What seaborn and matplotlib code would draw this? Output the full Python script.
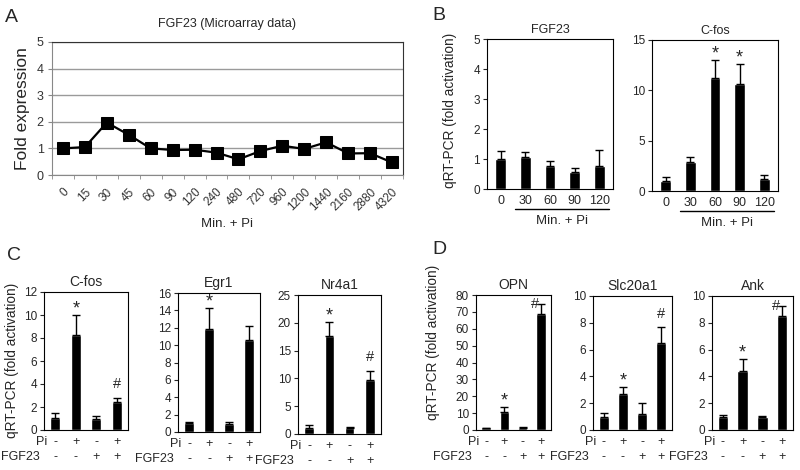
import numpy as np
import seaborn as sns
import matplotlib.pyplot as plt

sns.set_style('white')
plt.rcParams['font.family'] = ['Liberation Sans', 'DejaVu Sans']
plt.rcParams['font.size'] = 8.5

# Panel A: microarray time course
a_times = ['0', '15', '30', '45', '60', '90', '120', '240', '480', '720',
           '960', '1200', '1440', '2160', '2880', '4320']
a_fold = [1.0, 1.05, 1.97, 1.51, 1.0, 0.94, 0.95, 0.84, 0.59, 0.9,
          1.1, 0.98, 1.23, 0.81, 0.82, 0.47]

# Panel B: qRT-PCR time course
b_times = ['0', '30', '60', '90', '120']
b_fgf23 = [1.0, 1.07, 0.78, 0.57, 0.77]
b_fgf23_err = [0.27, 0.18, 0.17, 0.14, 0.53]
b_fgf23_marks = ['', '', '', '', '']
b_cfos = [1.0, 2.9, 11.2, 10.6, 1.15]
b_cfos_err = [0.38, 0.5, 1.8, 2.05, 0.45]
b_cfos_marks = ['', '', '*', '*', '']

# Panels C and D: treatment combinations
pi_signs = ['-', '+', '-', '+']
fgf_signs = ['-', '-', '+', '+']

c_cfos = [1.02, 8.28, 1.0, 2.4]
c_cfos_err = [0.48, 1.72, 0.2, 0.4]
c_cfos_marks = ['', '*', '', '#']
c_egr1 = [1.04, 11.9, 0.97, 10.6]
c_egr1_err = [0.06, 2.4, 0.19, 1.55]
c_egr1_marks = ['', '*', '', '']
c_nr4a1 = [1.02, 17.6, 1.0, 9.7]
c_nr4a1_err = [0.6, 2.6, 0.3, 1.7]
c_nr4a1_marks = ['', '*', '', '#']

d_opn = [1.0, 10.9, 1.1, 68.8]
d_opn_err = [0.3, 2.9, 0.4, 5.9]
d_opn_marks = ['', '*', '', '#']
d_slc20a1 = [1.0, 2.69, 1.17, 6.47]
d_slc20a1_err = [0.24, 0.54, 0.82, 1.19]
d_slc20a1_marks = ['', '*', '', '#']
d_ank = [1.0, 4.4, 1.0, 8.53]
d_ank_err = [0.12, 0.87, 0.07, 0.72]
d_ank_marks = ['', '*', '', '#']

W, H = 800, 470
fig = plt.figure(figsize=(W / 100, H / 100), dpi=100)


def px_axes(l, t, r, b):
    return fig.add_axes([l / W, 1 - b / H, (r - l) / W, (b - t) / H])


def bar_panel(ax, labels, means, errs, marks, ymax, step, width, title, tsize):
    n = len(means)
    sns.barplot(x=labels, y=means, color='black', width=width, saturation=1, ax=ax)
    ax.errorbar(np.arange(n), means, yerr=[np.zeros(n), errs], fmt='none',
                ecolor='black', elinewidth=1, capsize=3, capthick=1)
    ax.set_ylim(0, ymax)
    ax.set_yticks(np.arange(0, ymax + step / 2, step))
    ax.set_xlim(-0.55, n - 0.45)
    for s in ax.spines.values():
        s.set_visible(True)
        s.set_color('black')
        s.set_linewidth(0.8)
    ax.tick_params(axis='y', left=True, length=3, width=0.8, pad=2, labelsize=8.5)
    ax.tick_params(axis='x', bottom=False, length=0)
    ax.set_xlabel('')
    ax.set_ylabel('')
    ax.set_title(title, fontsize=tsize, pad=4)
    px = ymax / (ax.get_position().height * H)  # data units per pixel
    for i, m in enumerate(marks):
        if not m:
            continue
        top = means[i] + errs[i]
        if m == '*':
            ax.text(i, top + 6 * px, m, ha='center', va='center', fontsize=13)
        elif top + 0.15 * ymax > ymax:
            # no room above the bar: sit beside the cap
            ax.text(i - 0.12, top, m, ha='right', va='center', fontsize=10.5)
        else:
            ax.text(i, top + 0.05 * ymax, m, ha='center', va='bottom', fontsize=10.5)


def sign_rows(ax, pi_off=12, fgf_off=27):
    pos = ax.get_position()
    w, h = pos.width * W, pos.height * H
    tr = ax.get_xaxis_transform()
    for i, (p, f) in enumerate(zip(pi_signs, fgf_signs)):
        ax.text(i, -pi_off / h, p, transform=tr, ha='center', va='center', fontsize=9)
        ax.text(i, -fgf_off / h, f, transform=tr, ha='center', va='center', fontsize=9)
    ax.text(3 / w, -pi_off / h, 'Pi', transform=ax.transAxes, ha='right',
            va='center', fontsize=9)
    ax.text(-4 / w, -fgf_off / h, 'FGF23', transform=ax.transAxes, ha='right',
            va='center', fontsize=9)
    ax.set_xticklabels([])


# ---------- A ----------
axA = px_axes(52, 42, 403, 175)
sns.lineplot(x=np.arange(len(a_fold)), y=a_fold, marker='s', markersize=9,
             color='black', linewidth=1.6, markeredgecolor='black', ax=axA)
axA.set_xlim(-0.5, len(a_fold) - 0.5)
axA.set_ylim(0, 5)
axA.set_yticks(range(6))
axA.yaxis.grid(True, color='#9a9a9a', linewidth=1)
axA.xaxis.grid(False)
axA.set_xticks(np.arange(len(a_times)))
axA.set_xticklabels(a_times, rotation=45, ha='right', rotation_mode='anchor')
axA.set_xticks(np.arange(-0.5, len(a_times)), minor=True)
axA.tick_params(axis='x', which='major', length=0, pad=8, labelsize=8.5, labelcolor='#333333')
axA.tick_params(axis='x', which='minor', bottom=True, length=3, color='#888888')
axA.tick_params(axis='y', left=True, length=3, color='#888888', labelsize=9,
                labelcolor='#333333', pad=3)
for k in ['left', 'bottom']:
    axA.spines[k].set_color('#888888')
for k in ['top', 'right']:
    axA.spines[k].set_visible(True)
    axA.spines[k].set_color('#333333')
axA.set_title('FGF23 (Microarray data)', fontsize=9, pad=11)
axA.set_ylabel('Fold expression', fontsize=12.5, labelpad=5)
axA.set_xlabel('Min. + Pi', fontsize=9.5, labelpad=3)

# ---------- B ----------
for (l, t, r, b), means, errs, marks, ymax, step, title in [
        ((487, 39, 613, 189), b_fgf23, b_fgf23_err, b_fgf23_marks, 5, 1, 'FGF23'),
        ((652, 40, 778, 191), b_cfos, b_cfos_err, b_cfos_marks, 15, 5, 'C-fos')]:
    ax = px_axes(l, t, r, b)
    bar_panel(ax, b_times, means, errs, marks, ymax, step, 0.44, title, 9)
    ax.tick_params(axis='x', labelsize=9, pad=4)
    tr = ax.get_xaxis_transform()
    ax.plot([0.6, 4.4], [-20 / (b - t)] * 2, transform=tr, color='black',
            linewidth=1, clip_on=False)
    ax.text(2.5, -32 / (b - t), 'Min. + Pi', transform=tr, ha='center',
            va='center', fontsize=9.5)

# ---------- C ----------
conds = [p + f for p, f in zip(pi_signs, fgf_signs)]
for (l, t, r, b), means, errs, marks, ymax, step, title in [
        ((44, 292, 128, 430), c_cfos, c_cfos_err, c_cfos_marks, 12, 2, 'C-fos'),
        ((178, 293, 260, 432), c_egr1, c_egr1_err, c_egr1_marks, 16, 2, 'Egr1'),
        ((298, 295, 381, 434), c_nr4a1, c_nr4a1_err, c_nr4a1_marks, 25, 5, 'Nr4a1')]:
    ax = px_axes(l, t, r, b)
    bar_panel(ax, conds, means, errs, marks, ymax, step, 0.48, title, 10)
    sign_rows(ax)

# ---------- D ----------
for (l, t, r, b), means, errs, marks, ymax, step, title in [
        ((476, 295, 551, 430), d_opn, d_opn_err, d_opn_marks, 80, 10, 'OPN'),
        ((593, 296, 672, 430), d_slc20a1, d_slc20a1_err, d_slc20a1_marks, 10, 2, 'Slc20a1'),
        ((712, 296, 793, 430), d_ank, d_ank_err, d_ank_marks, 10, 2, 'Ank')]:
    ax = px_axes(l, t, r, b)
    bar_panel(ax, conds, means, errs, marks, ymax, step, 0.52, title, 10)
    sign_rows(ax)

# shared y labels and panel letters
ylab = 'qRT-PCR (fold activation)'
fig.text(450 / W, 1 - 110 / H, ylab, rotation=90, ha='center', va='center', fontsize=9.8)
fig.text(12 / W, 1 - 360 / H, ylab, rotation=90, ha='center', va='center', fontsize=9.8)
fig.text(433 / W, 1 - 342 / H, ylab, rotation=90, ha='center', va='center', fontsize=9.8)
for x, y, letter in [(5, 18, 'A'), (432, 16, 'B'), (7, 256, 'C'), (432, 250, 'D')]:
    fig.text(x / W, 1 - y / H, letter, ha='left', va='center', fontsize=14)

fig.savefig('out.png', dpi=100)
